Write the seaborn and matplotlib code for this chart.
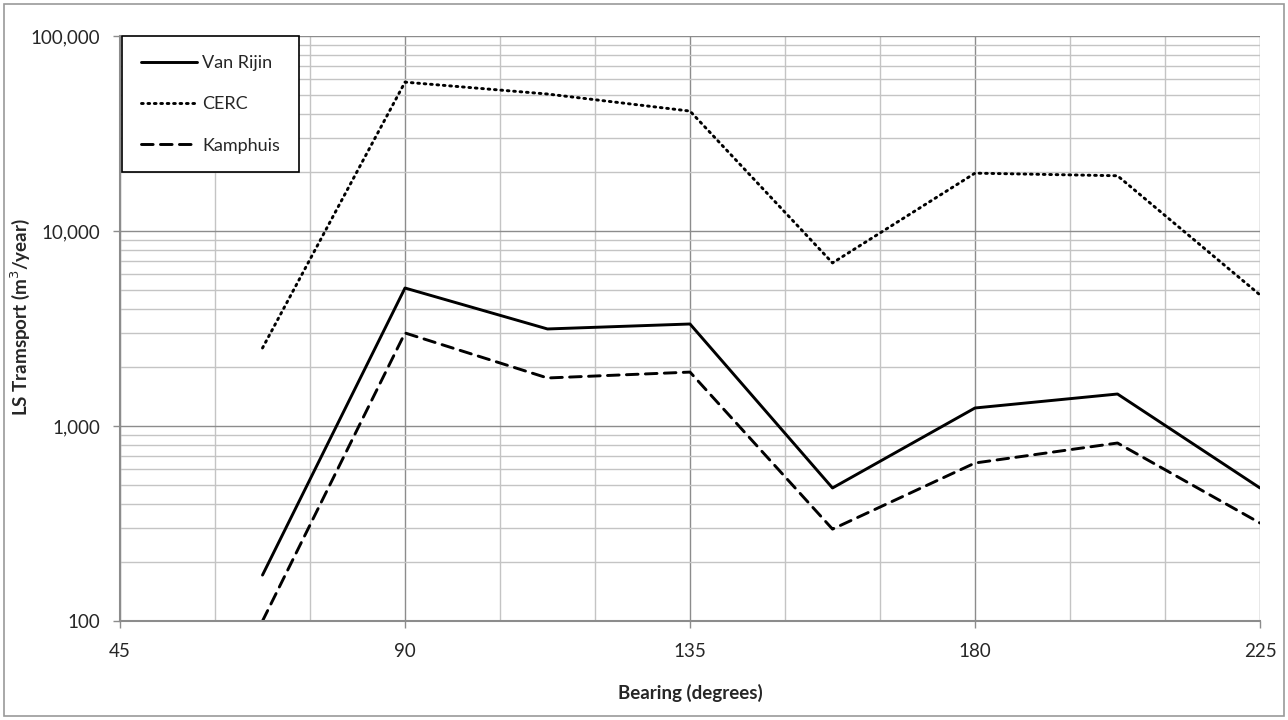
import numpy as np
import pandas as pd
import matplotlib
matplotlib.use("Agg")
import matplotlib.pyplot as plt
from matplotlib.ticker import FixedLocator, FuncFormatter, LogLocator, NullFormatter
from matplotlib.patches import Rectangle
import seaborn as sns

# data
bearing = [67.5, 90, 112.5, 135, 157.5, 180, 202.5, 225]
van_rijin = [172, 5100, 3145, 3335, 481, 1237, 1459, 481]
cerc = [2512, 58000, 50400, 41200, 6860, 19800, 19200, 4700]
kamphuis = [100, 3000, 1763, 1890, 296, 646, 818, 318]
series_names = ["Van Rijin", "CERC", "Kamphuis"]
x_ticks = [45, 90, 135, 180, 225]

df = pd.DataFrame({
    "bearing": bearing * 3,
    "transport": van_rijin + cerc + kamphuis,
    "method": np.repeat(series_names, len(bearing)),
})

sns.set_theme(style="white")
plt.rcParams["font.family"] = ["Lato", "DejaVu Sans"]

fig = plt.figure(figsize=(12.88, 7.2), dpi=100)
ax = fig.add_axes([120 / 1288, 1 - 621 / 720, 1140 / 1288, 585 / 720])

sns.lineplot(data=df, x="bearing", y="transport", style="method",
             style_order=series_names,
             dashes={"Van Rijin": "", "CERC": (0.6, 1.6), "Kamphuis": (4, 2.5)},
             color="black", linewidth=2.1, ax=ax, sort=False)
for ln in ax.get_lines():
    ln.set_dash_capstyle("round")

ax.set_yscale("log")
ax.set_ylim(100, 100000)
ax.set_xlim(45, 225)

# gridlines
ax.xaxis.set_major_locator(FixedLocator(x_ticks))
ax.xaxis.set_minor_locator(FixedLocator([x for x in range(45, 226, 15) if x % 45]))
ax.yaxis.set_major_locator(LogLocator(base=10))
ax.yaxis.set_minor_locator(LogLocator(base=10, subs=np.arange(2, 10)))
ax.yaxis.set_minor_formatter(NullFormatter())
ax.yaxis.set_major_formatter(FuncFormatter(lambda v, p: f"{v:,.0f}"))
ax.grid(which="major", color="#8c8c8c", linewidth=1.0)
ax.grid(which="minor", color="#c4c4c4", linewidth=1.0)
ax.set_axisbelow(True)

for side in ["top", "right"]:
    ax.spines[side].set_visible(False)
for side in ["left", "bottom"]:
    ax.spines[side].set_color("#8c8c8c")
    ax.spines[side].set_linewidth(1.5)

ax.tick_params(axis="both", which="major", length=5, width=1, color="#8c8c8c",
               labelsize=13.5, direction="out", bottom=True, left=True)
ax.tick_params(axis="x", which="major", pad=11)
ax.tick_params(axis="y", which="major", pad=9)
ax.tick_params(axis="both", which="minor", length=0)

ax.set_xlabel("Bearing (degrees)", fontsize=13.5, fontweight="bold", labelpad=17)
ax.set_ylabel("LS Tramsport (m$^3$/year)", fontsize=13.5, fontweight="bold")
ax.yaxis.set_label_coords(-0.077, 0.52)

leg = ax.legend(loc="upper left", bbox_to_anchor=(0.0015, 1.0), frameon=True,
                fancybox=False, edgecolor="black", framealpha=1, fontsize=13,
                handlelength=3.1, labelspacing=1.4, borderpad=1.05, handletextpad=0.3,
                borderaxespad=0)
leg.get_frame().set_linewidth(1.2)
for h in leg.get_lines():
    h.set_linewidth(2.1)

# outer chart border
fig.patches.append(Rectangle((4 / 1288, 4 / 720), 1280 / 1288, 712 / 720,
                             transform=fig.transFigure, fill=False,
                             edgecolor="#9a9a9a", linewidth=1.2))

fig.savefig("out.png", dpi=100)
